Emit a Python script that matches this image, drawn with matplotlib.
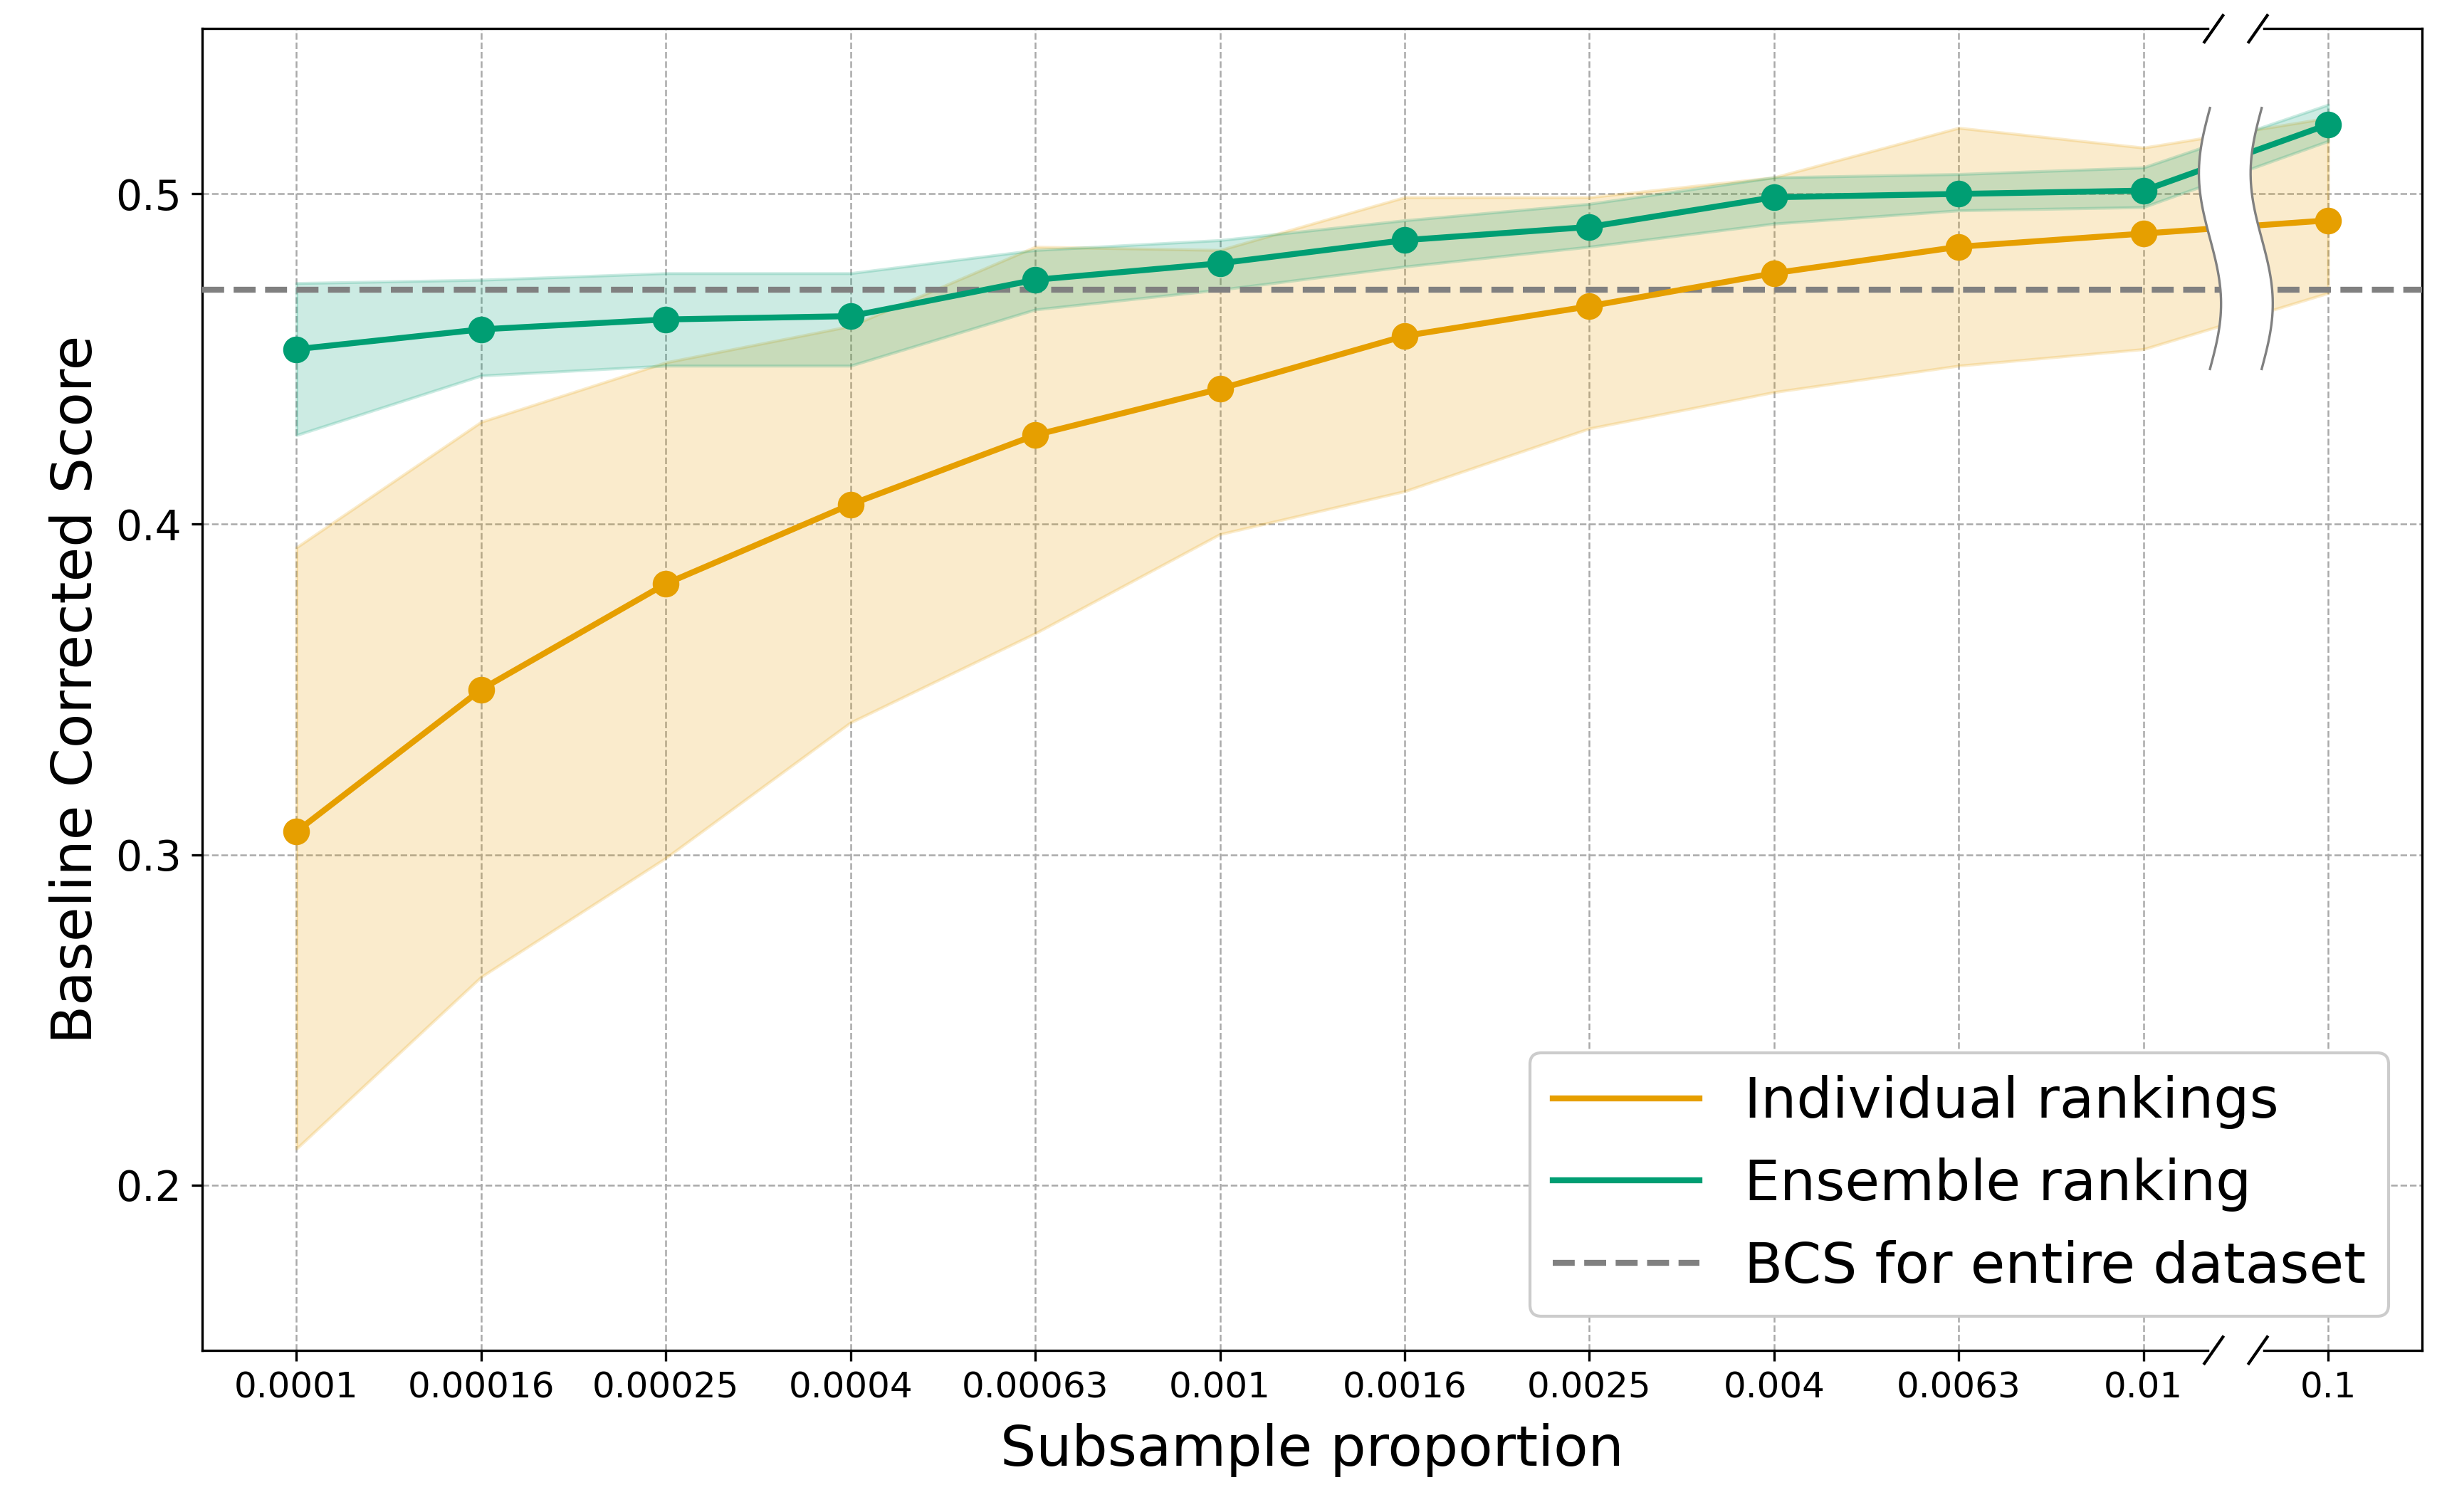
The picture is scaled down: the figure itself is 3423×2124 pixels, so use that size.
import numpy as np
import matplotlib.pyplot as plt
from matplotlib.patches import Polygon
from matplotlib.lines import Line2D

# DATA
proportions = ["0.0001", "0.00016", "0.00025", "0.0004", "0.00063", "0.001",
               "0.0016", "0.0025", "0.004", "0.0063", "0.01", "0.1"]
indiv_mean = [0.307, 0.350, 0.382, 0.406, 0.427, 0.441, 0.457, 0.466, 0.476, 0.484, 0.488, 0.492]
indiv_low = [0.211, 0.263, 0.299, 0.340, 0.367, 0.397, 0.410, 0.429, 0.440, 0.448, 0.453, 0.470]
indiv_high = [0.393, 0.431, 0.449, 0.460, 0.484, 0.483, 0.499, 0.499, 0.505, 0.520, 0.514, 0.523]
ens_mean = [0.453, 0.459, 0.462, 0.463, 0.474, 0.479, 0.486, 0.490, 0.499, 0.500, 0.501, 0.521]
ens_low = [0.427, 0.445, 0.448, 0.448, 0.465, 0.471, 0.478, 0.484, 0.491, 0.495, 0.496, 0.516]
ens_high = [0.473, 0.474, 0.476, 0.476, 0.483, 0.486, 0.492, 0.497, 0.505, 0.506, 0.508, 0.527]
bcs_full = 0.471

orange = "#E69F00"
green = "#009E73"
x = np.arange(len(proportions))

fig, ax = plt.subplots(figsize=(11.41, 7.08), dpi=300)
fig.subplots_adjust(left=0.083, right=0.994, top=0.981, bottom=0.107)

ax.fill_between(x, indiv_low, indiv_high, color=orange, alpha=0.2, zorder=2)
ax.fill_between(x, ens_low, ens_high, color=green, alpha=0.2, zorder=2)
ax.plot(x, indiv_mean, "-o", color=orange, lw=2, ms=8, zorder=4)
ax.plot(x, ens_mean, "-o", color=green, lw=2, ms=8, zorder=4)
ax.axhline(bcs_full, color="gray", ls="--", lw=2, zorder=3)

# axis break: white gap with wavy edges
yy = np.linspace(0.447, 0.526, 60)
t = (yy - yy[0]) / (yy[-1] - yy[0])
wave = 0.06 * np.sin(2 * np.pi * t)
left = 10.36 + wave
right = 10.64 + wave
poly = np.vstack([np.column_stack([left, yy]), np.column_stack([right[::-1], yy[::-1]])])
ax.add_patch(Polygon(poly, facecolor="white", edgecolor="none", zorder=5))
ax.plot(left, yy, color="gray", lw=0.8, zorder=6)
ax.plot(right, yy, color="gray", lw=0.8, zorder=6)
for yb in (0.15, 0.55):
    ax.plot([10.38, 10.62], [yb, yb], color="white", lw=3, zorder=7, clip_on=False)
    for xb in (10.38, 10.62):
        ax.plot([xb - 0.05, xb + 0.05], [yb - 0.004, yb + 0.004], color="black", lw=1, zorder=8, clip_on=False)

ax.set_xlim(-0.51, 11.51)
ax.set_ylim(0.15, 0.55)
ax.set_xticks(x)
ax.set_xticklabels(proportions, fontsize=12)
ax.set_yticks([0.2, 0.3, 0.4, 0.5])
ax.tick_params(axis="y", labelsize=14)
ax.grid(True, ls="--", lw=0.6, color="#aaaaaa")
ax.set_axisbelow(True)
ax.set_xlabel("Subsample proportion", fontsize=19, labelpad=6)
ax.set_ylabel("Baseline Corrected Score", fontsize=19, labelpad=4)

handles = [Line2D([], [], color=orange, lw=2),
           Line2D([], [], color=green, lw=2),
           Line2D([], [], color="gray", lw=2, ls="--")]
labels = ["Individual rankings", "Ensemble ranking", "BCS for entire dataset"]
ax.legend(handles, labels, loc="lower right", fontsize=19, framealpha=1,
          handlelength=2.6, borderaxespad=0.6)

plt.savefig("out.png", dpi=300)
